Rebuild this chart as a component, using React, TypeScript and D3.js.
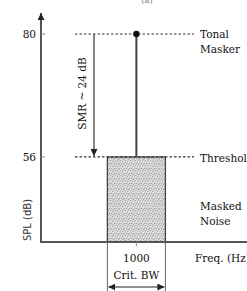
import { useEffect, useRef } from "react";
import * as d3 from "d3";

// levels in dB SPL
const yTicks = [80, 56];
const maskerFreq = [1000];
const maskerLevel = [80];
const thresholdLevel = [56];
const critBand = [920, 1080]; // Hz, critical band round 1 kHz
const smrLabel = "SMR ~ 24 dB";
const rightLabels = [
  { text: "Tonal", level: 80, dy: 4 },
  { text: "Masker", level: 80, dy: 19 },
  { text: "Threshold", level: 56, dy: 5 },
  { text: "Masked", level: 56, dy: 53 },
  { text: "Noise", level: 56, dy: 68 },
];

const W = 247;
const H = 291;

export default function App() {
  const ref = useRef<SVGSVGElement>(null);

  useEffect(() => {
    if (!ref.current) return;
    const svg = d3.select(ref.current);
    svg.selectAll("*").remove();

    const x = d3.scaleLinear().domain([737, 1305]).range([41, 247]);
    const y = d3.scaleLinear().domain([39.4, 80]).range([242, 34]);
    const axisColor = "#555";
    const serif = "'DejaVu Serif', serif";
    const ink = "#111";

    const defs = svg.append("defs");
    const pat = defs
      .append("pattern")
      .attr("id", "stip")
      .attr("width", 5)
      .attr("height", 5)
      .attr("patternUnits", "userSpaceOnUse");
    pat.append("rect").attr("width", 5).attr("height", 5).attr("fill", "#d4d4d4");
    [
      [0, 0],
      [2, 1],
      [4, 3],
      [1, 3],
      [3, 4],
    ].forEach(([px, py]) =>
      pat.append("rect").attr("x", px).attr("y", py).attr("width", 1).attr("height", 1).attr("fill", "#a4a4a4")
    );
    [
      [1, 1],
      [3, 2],
      [0, 4],
    ].forEach(([px, py]) =>
      pat.append("rect").attr("x", px).attr("y", py).attr("width", 1).attr("height", 1).attr("fill", "#eeeeee")
    );
    defs
      .append("marker")
      .attr("id", "ah")
      .attr("viewBox", "0 0 10 10")
      .attr("refX", 10)
      .attr("refY", 5)
      .attr("markerWidth", 7)
      .attr("markerHeight", 7)
      .attr("markerUnits", "userSpaceOnUse")
      .attr("orient", "auto-start-reverse")
      .append("path")
      .attr("d", "M0,0L10,5L0,10z")
      .attr("fill", "#222");

    // masked noise band
    svg
      .append("rect")
      .attr("x", x(critBand[0]))
      .attr("y", y(thresholdLevel[0]))
      .attr("width", x(critBand[1]) - x(critBand[0]))
      .attr("height", y(39.4) - y(thresholdLevel[0]))
      .attr("fill", "url(#stip)")
      .attr("stroke", "#444")
      .attr("stroke-width", 1.3);

    // band edges running below the axis
    critBand.forEach((f) =>
      svg
        .append("line")
        .attr("x1", x(f))
        .attr("x2", x(f))
        .attr("y1", y(39.4))
        .attr("y2", H)
        .attr("stroke", "#666")
        .attr("stroke-width", 1)
    );

    // dotted level lines
    [maskerLevel[0], thresholdLevel[0]].forEach((lv) =>
      svg
        .append("line")
        .attr("x1", 75)
        .attr("x2", 194)
        .attr("y1", y(lv))
        .attr("y2", y(lv))
        .attr("stroke", "#333")
        .attr("stroke-width", 1.2)
        .attr("stroke-dasharray", "2.5,2")
    );

    // tonal masker
    svg
      .append("line")
      .attr("x1", x(maskerFreq[0]))
      .attr("x2", x(maskerFreq[0]))
      .attr("y1", y(maskerLevel[0]))
      .attr("y2", y(thresholdLevel[0]))
      .attr("stroke", "#444")
      .attr("stroke-width", 2);
    svg
      .append("circle")
      .attr("cx", x(maskerFreq[0]))
      .attr("cy", y(maskerLevel[0]))
      .attr("r", 3.2)
      .attr("fill", "#111");

    // SMR arrow
    svg
      .append("line")
      .attr("x1", 94)
      .attr("x2", 94)
      .attr("y1", y(maskerLevel[0]))
      .attr("y2", y(thresholdLevel[0]) - 1)
      .attr("stroke", "#333")
      .attr("stroke-width", 1.2)
      .attr("marker-end", "url(#ah)");
    svg
      .append("text")
      .attr("transform", `translate(86,${(y(maskerLevel[0]) + y(thresholdLevel[0])) / 2 - 2}) rotate(-90)`)
      .attr("text-anchor", "middle")
      .attr("font-family", serif)
      .attr("font-size", 10.5)
      .attr("fill", ink)
      .text(smrLabel);

    // axes
    svg
      .append("line")
      .attr("x1", 41)
      .attr("x2", 41)
      .attr("y1", y(39.4))
      .attr("y2", 13)
      .attr("stroke", axisColor)
      .attr("stroke-width", 2)
      .attr("marker-end", "url(#ah)");
    svg
      .append("line")
      .attr("x1", 40)
      .attr("x2", W)
      .attr("y1", y(39.4))
      .attr("y2", y(39.4))
      .attr("stroke", axisColor)
      .attr("stroke-width", 2);

    yTicks.forEach((t) => {
      svg
        .append("line")
        .attr("x1", 41)
        .attr("x2", 45)
        .attr("y1", y(t))
        .attr("y2", y(t))
        .attr("stroke", "#888")
        .attr("stroke-width", 1);
      svg
        .append("text")
        .attr("x", 36)
        .attr("y", y(t) + 4)
        .attr("text-anchor", "end")
        .attr("font-family", serif)
        .attr("font-size", 10.5)
        .attr("fill", ink)
        .text(String(t));
    });

    svg
      .append("line")
      .attr("x1", x(maskerFreq[0]))
      .attr("x2", x(maskerFreq[0]))
      .attr("y1", y(39.4))
      .attr("y2", y(39.4) + 4)
      .attr("stroke", "#888");
    svg
      .append("text")
      .attr("x", x(maskerFreq[0]))
      .attr("y", 262)
      .attr("text-anchor", "middle")
      .attr("font-family", serif)
      .attr("font-size", 10.5)
      .attr("fill", ink)
      .text(String(maskerFreq[0]));
    svg
      .append("text")
      .attr("x", 195)
      .attr("y", 262)
      .attr("font-family", serif)
      .attr("font-size", 10.5)
      .attr("fill", ink)
      .text("Freq. (Hz)");
    svg
      .append("text")
      .attr("x", x(maskerFreq[0]))
      .attr("y", 279)
      .attr("text-anchor", "middle")
      .attr("font-family", serif)
      .attr("font-size", 10.5)
      .attr("fill", ink)
      .text("Crit. BW");
    svg
      .append("line")
      .attr("x1", x(critBand[0]) + 1)
      .attr("x2", x(critBand[1]) - 1)
      .attr("y1", 287)
      .attr("y2", 287)
      .attr("stroke", "#222")
      .attr("stroke-width", 1.2)
      .attr("marker-start", "url(#ah)")
      .attr("marker-end", "url(#ah)");

    svg
      .append("text")
      .attr("transform", `translate(31,220) rotate(-90)`)
      .attr("text-anchor", "middle")
      .attr("font-family", "'DejaVu Sans', sans-serif")
      .attr("font-size", 10)
      .attr("fill", "#333")
      .text("SPL (dB)");

    rightLabels.forEach((l) =>
      svg
        .append("text")
        .attr("x", 200)
        .attr("y", y(l.level) + l.dy)
        .attr("font-family", serif)
        .attr("font-size", 10.5)
        .attr("fill", ink)
        .text(l.text)
    );

    svg
      .append("text")
      .attr("x", 147)
      .attr("y", 3)
      .attr("text-anchor", "middle")
      .attr("font-family", serif)
      .attr("font-size", 8)
      .attr("fill", "#777")
      .text("(a)");
  }, []);

  return (
    <svg
      ref={ref}
      width={W}
      height={H}
      style={{ position: "absolute", left: 0, top: 0, background: "#fff" }}
    />
  );
}
